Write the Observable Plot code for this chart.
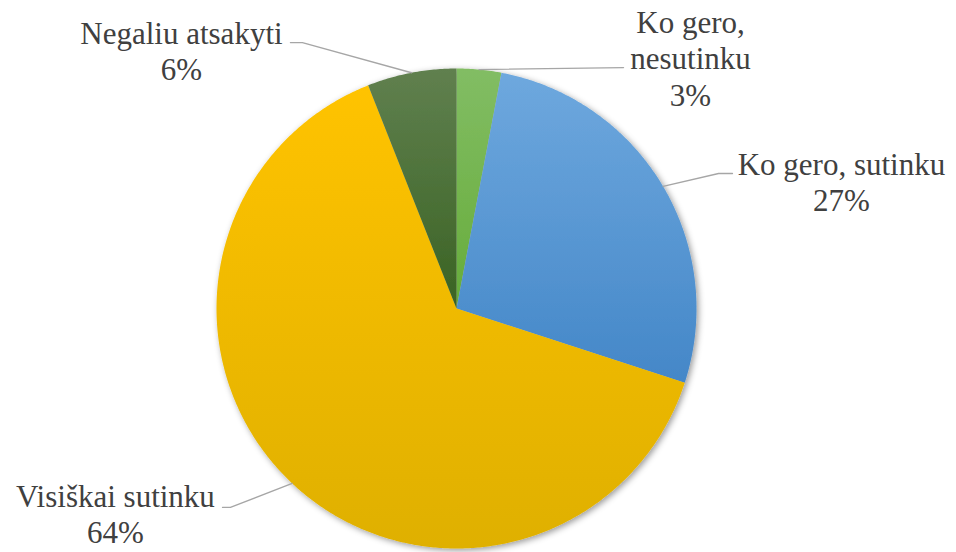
<!DOCTYPE html>
<html>
<head>
<meta charset="utf-8">
<script src="https://cdn.jsdelivr.net/npm/d3@7"></script>
<script src="https://cdn.jsdelivr.net/npm/@observablehq/plot@0.6"></script>
<style>
  html, body { margin: 0; padding: 0; background: #ffffff; }
  #chart svg { display: block; }
</style>
</head>
<body>
<div id="chart"></div>
<script>
// ---- data ----
const categories = ["Ko gero, nesutinku", "Ko gero, sutinku", "Visiškai sutinku", "Negaliu atsakyti"];
const percents = [3, 27, 64, 6];
const colorsTop = ["#82BD64", "#6EA8DE", "#FFC300", "#60804F"];
const colorsBottom = ["#66AC3A", "#4487C8", "#DFB000", "#3A6323"];

// ---- layout (pie units: radius = 1, y up) ----
const wrapLabel = [true, false, false, false];
const labelPos = [[0.975, 1.045], [1.604, 0.53], [-1.421, -0.855], [-1.146, 1.075]];
const leaderElbow = [[0.696, 1.004], [1.092, 0.5625], [-0.942, -0.829], [-0.642, 1.108]];
const leaderEnd = [[0.696, 1.004], [1.15, 0.5625], [-0.975, -0.829], [-0.692, 1.108]];

const pie = d3.pie().sort(null).startAngle(0).endAngle(2 * Math.PI)(percents);
const pt = (a, r = 1) => [r * Math.sin(a), r * Math.cos(a)];

const slices = pie.map((p, i) => {
  const n = Math.max(2, Math.ceil((p.endAngle - p.startAngle) / (Math.PI / 360)));
  const ring = [[0, 0]];
  for (let k = 0; k <= n; k++) ring.push(pt(p.startAngle + (p.endAngle - p.startAngle) * k / n));
  ring.push([0, 0]);
  return {
    name: categories[i],
    pct: percents[i],
    fill: `url(#sliceGrad${i})`,
    mid: (p.startAngle + p.endAngle) / 2,
    geom: {type: "Polygon", coordinates: [ring.reverse()]},
    i
  };
});

const leaders = slices.flatMap((s, i) => {
  const e = pt(s.mid);
  return [
    {i, x: e[0], y: e[1]},
    {i, x: leaderElbow[i][0], y: leaderElbow[i][1]},
    {i, x: leaderEnd[i][0], y: leaderEnd[i][1]}
  ];
});

const defsMark = () => {
  const defs = d3.create("svg:defs");
  slices.forEach((s, i) => {
    const g = defs.append("linearGradient")
      .attr("id", `sliceGrad${i}`)
      .attr("x1", 0).attr("y1", 0).attr("x2", 0).attr("y2", 1);
    g.append("stop").attr("offset", "0%").attr("stop-color", colorsTop[i]);
    g.append("stop").attr("offset", "100%").attr("stop-color", colorsBottom[i]);
  });
  const f = defs.append("filter").attr("id", "pieShadow")
    .attr("x", "-10%").attr("y", "-10%").attr("width", "120%").attr("height", "120%");
  f.append("feDropShadow").attr("dx", 2).attr("dy", 2).attr("stdDeviation", 3)
    .attr("flood-color", "#000").attr("flood-opacity", 0.4);
  return defs.node();
};

const chart = Plot.plot({
  width: 956,
  height: 552,
  margin: 0,
  style: {background: "#ffffff"},
  color: {type: "identity"},
  projection: {
    type: "reflect-y",
    domain: {type: "MultiPoint", coordinates: [[-1, -1], [1, 1]]},
    insetLeft: 216, insetRight: 260, insetTop: 68, insetBottom: 4,
    clip: false
  },
  marks: [
    defsMark,
    Plot.geo(slices, {geometry: d => d.geom, fill: d => d.fill, stroke: "none"}),
    Plot.line(leaders, {x: "x", y: "y", z: "i", stroke: "#A6A6A6", strokeWidth: 1.3}),
    Plot.text(slices, {
      x: d => labelPos[d.i][0],
      y: d => labelPos[d.i][1],
      text: d => (wrapLabel[d.i] ? d.name.replace(", ", ",\n") : d.name) + "\n" + d.pct + "%",
      fontSize: 31,
      fontFamily: "'Liberation Serif', 'Times New Roman', serif",
      fill: "#404040",
      lineHeight: 1.17,
      textAnchor: "middle"
    })
  ]
});

d3.select(chart).select('g[aria-label="geo"]').attr("filter", "url(#pieShadow)");
document.getElementById("chart").appendChild(chart);
</script>
</body>
</html>
